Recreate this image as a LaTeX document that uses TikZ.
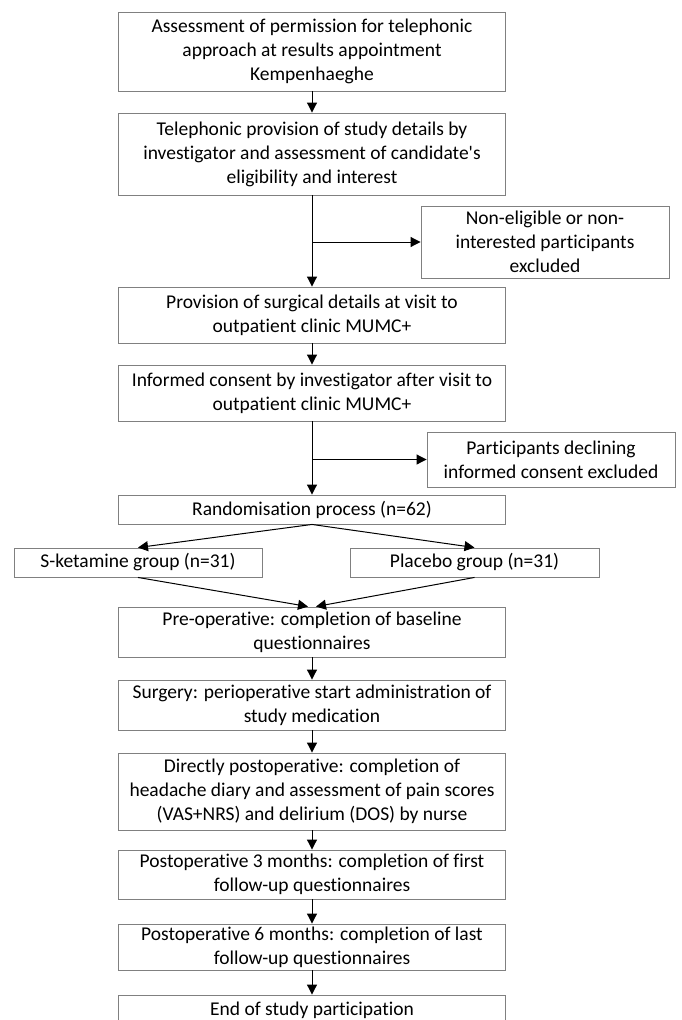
\documentclass[tikz,border=0pt]{standalone}
\usepackage{fontspec}
\setmainfont{Carlito}[Ligatures={NoCommon}]
\usetikzlibrary{arrows.meta,calc}
\tikzset{
  box/.style={draw=black!50, line width=0.9pt, fill=white, align=center, inner sep=0pt,
    text=black, font=\fontsize{19.5}{24}\selectfont},
  maincol/.style={box, minimum width=387pt},
  sidecol/.style={box, minimum width=248pt},
  conn/.style={line width=1pt, draw=black},
  arr/.style={conn, -{Triangle[length=10pt,width=10pt]}}
}
\begin{document}
\begin{tikzpicture}[x=1pt,y=-1pt]
\useasboundingbox (0,0) rectangle (682,1020);
\clip (0,0) rectangle (682,1020);
\node[maincol, minimum height=79pt] (b1) at (312,51.5) {Assessment of permission for telephonic\\approach at results appointment\\Kempenhaeghe};
\node[maincol, minimum height=82pt] (b2) at (312,154) {Telephonic provision of study details by\\investigator and assessment of candidate\textquotesingle s\\eligibility and interest};
\node[sidecol, minimum height=72pt] (b3) at (545,242) {Non-eligible or non-\\interested participants\\excluded};
\node[maincol, minimum height=56pt] (b4) at (312,315) {Provision of surgical details at visit to\\outpatient clinic MUMC+};
\node[maincol, minimum height=56pt] (b5) at (312,393) {Informed consent by investigator after visit to\\outpatient clinic MUMC+};
\node[sidecol, minimum height=55pt] (b6) at (551,459.5) {Participants declining\\informed consent excluded};
\node[maincol, minimum height=29pt] (b7) at (312,509.5) {Randomisation process (n=62)};
\node[sidecol, minimum height=29pt] (b8) at (138,562.5) {S-ketamine group (n=31)};
\node[box, minimum width=249pt, minimum height=29pt] (b9) at (474.5,562.5) {Placebo group (n=31)};
\node[maincol, minimum height=50pt] (b10) at (312,632) {Pre-operative: completion of baseline\\questionnaires};
\node[maincol, minimum height=50pt] (b11) at (312,705) {Surgery: perioperative start administration of\\study medication};
\node[maincol, minimum height=77pt] (b12) at (312,791.5) {Directly postoperative: completion of\\headache diary and assessment of pain scores\\(VAS+NRS) and delirium (DOS) by nurse};
\node[maincol, minimum height=49pt] (b13) at (312,874.5) {Postoperative 3 months: completion of first\\follow-up questionnaires};
\node[maincol, minimum height=46pt] (b14) at (312,947) {Postoperative 6 months: completion of last\\follow-up questionnaires};
\node[maincol, minimum height=30pt] (b15) at (312,1010) {End of study participation};

\coordinate (j1) at (b2.south |- b3.west);
\coordinate (j2) at (b5.south |- b6.west);

\draw[arr] (b1.south) -- (b2.north);
\draw[arr] (b2.south) -- (b4.north);
\draw[arr] (j1) -- (b3.west);
\draw[arr] (b4.south) -- (b5.north);
\draw[arr] (b5.south) -- (b7.north);
\draw[arr] (j2) -- (b6.west);
\draw[arr] (b7.south) -- (b8.north);
\draw[arr] (b7.south) -- (b9.north);
\draw[arr] (b8.south) -- ($(b10.north)+(-4,0)$);
\draw[arr] (b9.south) -- ($(b10.north)+(4,0)$);
\draw[arr] (b10.south) -- (b11.north);
\draw[arr] (b11.south) -- (b12.north);
\draw[arr] (b12.south) -- (b13.north);
\draw[arr] (b13.south) -- (b14.north);
\draw[arr] (b14.south) -- (b15.north);
\end{tikzpicture}
\end{document}
